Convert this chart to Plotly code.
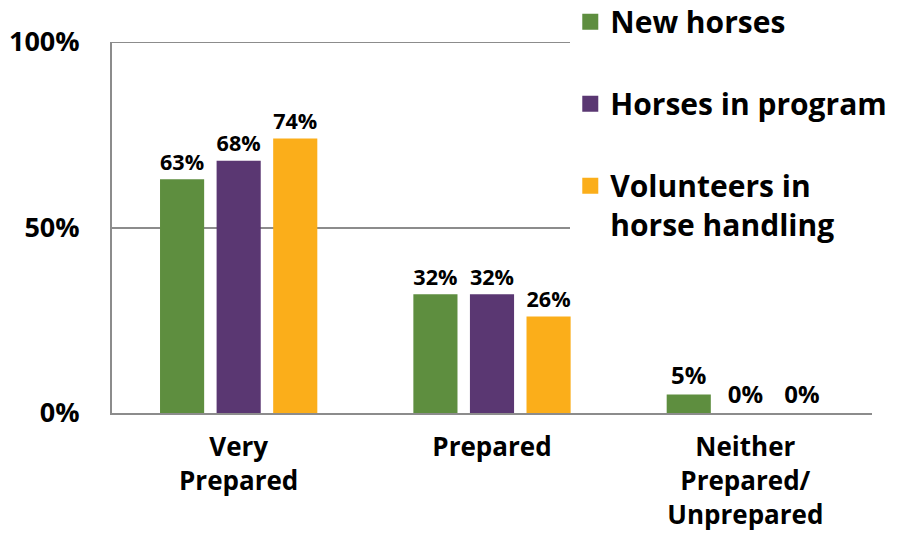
import plotly.graph_objects as go

categories = ["Very<br>Prepared", "Prepared", "Neither<br>Prepared/<br>Unprepared"]
series = ["New horses", "Horses in program", "Volunteers in<br>horse handling"]
new_horses = [63, 32, 5]
horses_in_program = [68, 32, 0]
volunteers = [74, 26, 0]
colors = ["#5E8E3F", "#5A3772", "#FBAE1A"]

FONT = "Open Sans"

fig = go.Figure()
for i, (name, vals) in enumerate(zip(series, [new_horses, horses_in_program, volunteers])):
    fig.add_trace(
        go.Bar(
            x=categories,
            y=vals,
            name=name,
            showlegend=False,
            marker=dict(color=colors[i], line=dict(width=0)),
            text=[f"{v}%" for v in vals],
            texttemplate="%{text}",
            textposition="outside",
            textfont=dict(size=24, color="black", family=FONT, weight="bold"),
            cliponaxis=False,
        )
    )

# legend-only entries so the swatches can be bigger squares
for i, name in enumerate(series):
    fig.add_trace(
        go.Scatter(
            x=[None],
            y=[None],
            mode="markers",
            name=name,
            legendgroup=f"g{i}",
            marker=dict(symbol="square", size=16, color=colors[i]),
        )
    )

# top gridline (plotly drops gridlines sitting on the range edge)
fig.add_shape(
    type="line", xref="paper", yref="y", x0=0, x1=1, y0=100, y1=100,
    line=dict(color="#8C8C8C", width=2), layer="below",
)

fig.update_layout(
    width=899,
    height=533,
    margin=dict(l=112, r=27, t=42, b=120, autoexpand=False),
    barmode="group",
    bargap=0.33,
    bargroupgap=0.22,
    plot_bgcolor="white",
    paper_bgcolor="white",
    font=dict(family=FONT, color="black", weight="bold"),
    legend=dict(
        x=0.603,
        y=1.125,
        xanchor="left",
        yanchor="top",
        bgcolor="white",
        font=dict(size=30, family=FONT, weight="bold"),
        tracegroupgap=40,
        valign="top",
        itemwidth=30,
    ),
    showlegend=True,
)

fig.update_yaxes(
    range=[0, 100],
    tickvals=[0, 50, 100],
    ticktext=["0%", "50%", "100%"],
    showgrid=True,
    gridcolor="#8C8C8C",
    gridwidth=2,
    showline=True,
    linecolor="#8C8C8C",
    linewidth=2,
    zeroline=False,
    tickfont=dict(size=27, family=FONT, weight="bold"),
    ticklabelstandoff=25,
)
fig.update_xaxes(
    showline=True,
    linecolor="#8C8C8C",
    linewidth=2,
    tickfont=dict(size=26, family=FONT, weight="bold"),
    ticklabelstandoff=10,
)

fig.write_html(
    "out.html",
    config={"displayModeBar": False},
    post_script="document.body.style.margin='0';",
)
